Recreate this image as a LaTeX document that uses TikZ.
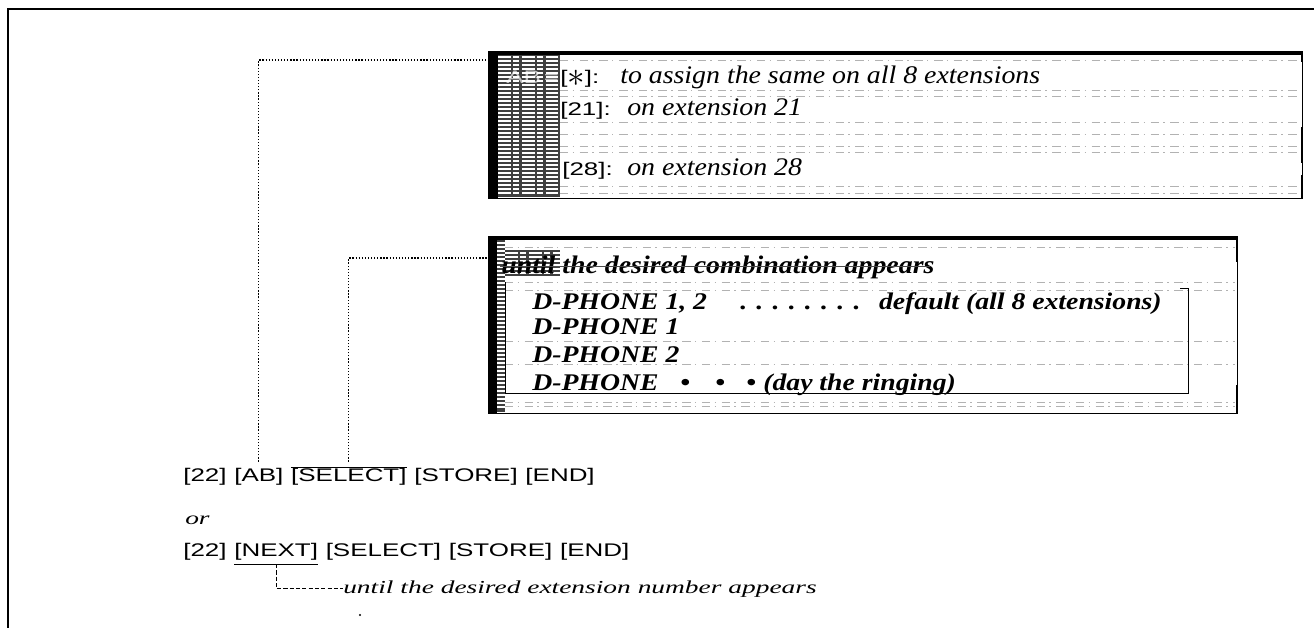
\documentclass[tikz,border=0pt]{standalone}
\usepackage{fontspec}
\setmainfont{Liberation Serif}
\newfontfamily\keyfont[FakeStretch=1.42]{Liberation Sans}
\newfontfamily\notefont[FakeStretch=1.1]{Liberation Serif}
\newfontfamily\phonefont[FakeStretch=1.16]{Liberation Serif}
\newfontfamily\hintfont[FakeStretch=1.5]{Liberation Serif}
\usetikzlibrary{positioning}

\tikzset{
  keytxt/.style={font=\keyfont\fontsize{13}{15}\selectfont, inner sep=0pt, anchor=base west},
  notetxt/.style={font=\notefont\itshape\fontsize{18}{20}\selectfont, inner sep=0pt, anchor=base west},
  phonetxt/.style={font=\phonefont\bfseries\itshape\fontsize{17}{19}\selectfont, inner sep=0pt, anchor=base west},
  hinttxt/.style={font=\hintfont\itshape\fontsize{13}{15}\selectfont, inner sep=0pt, anchor=base west},
  boxarea/.style={inner sep=0pt, anchor=north west},
  leader/.style={line width=0.8pt, dash pattern=on 0.9pt off 1.3pt},
  hintline/.style={line width=0.6pt, dash pattern=on 3pt off 1.5pt},
  scan/.style={black!30, line width=0.35pt, dash pattern=on 6pt off 3pt on 1pt off 4pt},
  stripe/.style={white, line width=0.8pt, dash pattern=on 9pt off 2pt on 4pt off 2pt}
}

\begin{document}
\begin{tikzpicture}[x=0.025cm,y=-0.025cm]
  \useasboundingbox (0,0) rectangle (1314,628);
  % outer frame
  \draw[line width=1.3pt] (8,628) -- (8,9) -- (1314,9);

  % extension choice box
  \node[boxarea, minimum width=20.35cm, minimum height=3.625cm] (optbox) at (488,53) {};
  \fill[black!75] (498,55) rectangle (560,197);
  \node[keytxt, text=black!25] (abeq) at (506,84) {AB\,=};
  \foreach \yy in {57,61,...,195}
    \draw[stripe] (498,\yy) -- (560,\yy);
  \fill[black] (optbox.north west) rectangle (498,198);
  \foreach \yy in {60,90,96,122,134,146,152,186,193}
    \draw[scan] (560,\yy) -- (1300,\yy);
  \draw[line width=2.4pt] (optbox.north west) -- (optbox.north east);
  \draw[line width=0.8pt] (optbox.south west) -- (optbox.south east);
  \draw[line width=0.5pt] (optbox.north east) -- (optbox.south east);
  \draw[line width=2pt] (1302,53) -- (1302,62) (1302,127) -- (1302,163) (1302,175) -- (1302,198);

  \node[keytxt] (kstar) at (560,84) {[\raisebox{-2pt}{\fontsize{24}{24}\selectfont$\ast$}]:};
  \node[notetxt] (allext) at (620,84) {to assign the same on all 8 extensions};
  \node[keytxt] (k21) at (560,116) {[21]:};
  \node[notetxt] (ext21) at (627,116) {on extension 21};
  \node[keytxt] (k28) at (562,176) {[28]:};
  \node[notetxt] (ext28) at (627,176) {on extension 28};

  % ringing mode box
  \node[boxarea, minimum width=18.725cm, minimum height=4.375cm] (modebox) at (488,238) {};
  \fill[black!75] (497,240) rectangle (505,412);
  \fill[black!75] (505,250) rectangle (560,276);
  \foreach \yy in {243,247,...,410}
    \draw[stripe] (497,\yy) -- (505,\yy);
  \foreach \yy in {253,257,...,275}
    \draw[stripe] (505,\yy) -- (560,\yy);
  \fill[black] (modebox.north west) rectangle (497,413);
  \foreach \yy in {247,282,290,341,364,402,406}
    \draw[scan] (505,\yy) -- (1235,\yy);
  \draw[line width=2.4pt] (modebox.north west) -- (modebox.north east);
  \draw[line width=0.9pt] (modebox.south west) -- (modebox.south east);
  \draw[line width=0.5pt] (modebox.north east) -- (modebox.south east);
  \draw[line width=2pt] (1237,238) -- (1237,262) (1237,385) -- (1237,413);

  \node[notetxt, font=\notefont\bfseries\itshape\fontsize{18}{20}\selectfont] (combi) at (501,274) {until the desired combination appears};
  \draw[black!70, line width=0.6pt] (500,266) -- (930,266);
  \draw[line width=0.6pt] (1180,288) -- (1188,288) -- (1188,393) -- (505,393) -- (505,282);
  \node[phonetxt] (ph12) at (532,310) {D-PHONE 1, 2};
  \node[phonetxt] (phdots) at (740,310) {. . . . . . . .};
  \node[phonetxt, anchor=base east] (phdef) at (1162,310) {default (all 8 extensions)};
  \node[phonetxt] (ph1) at (532,335) {D-PHONE 1};
  \node[phonetxt] (ph2) at (532,363) {D-PHONE 2};
  \node[phonetxt] (phday) at (532,391) {D-PHONE};
  \node[phonetxt] (bul1) at (680,391) {•};
  \node[phonetxt] (bul2) at (715,391) {•};
  \node[phonetxt] (bul3) at (746,391) {•};
  \node[phonetxt] (daynote) at (763,391) {(day the ringing)};

  % key sequences
  \node[keytxt] (k22a) at (183,482) {[22]};
  \node[keytxt, right=0.18cm of k22a] (kab) {[AB]};
  \node[keytxt, right=0.18cm of kab] (ksel) {[SELECT]};
  \node[keytxt, right=0.18cm of ksel] (kstore) {[STORE]};
  \node[keytxt, right=0.18cm of kstore] (kend) {[END]};
  \draw[line width=0.7pt] ([yshift=0.03cm]ksel.north west) -- ([yshift=0.03cm]ksel.north east);

  \node[hinttxt] (orword) at (185,524) {or};

  \node[keytxt] (k22b) at (183,556) {[22]};
  \node[keytxt, right=0.18cm of k22b] (knext) {[NEXT]};
  \node[keytxt, right=0.18cm of knext] (ksel2) {[SELECT]};
  \node[keytxt, right=0.18cm of ksel2] (kstore2) {[STORE]};
  \node[keytxt, right=0.18cm of kstore2] (kend2) {[END]};
  \draw[line width=0.7pt] ([yshift=-0.1cm]knext.south west) -- ([yshift=-0.1cm]knext.south east);

  \node[hinttxt] (hint) at (343,593) {until the desired extension number appears};

  % leaders
  \coordinate (optin) at (488,60);
  \coordinate (modein) at (488,258);
  \coordinate (nextfoot) at ([yshift=-0.1cm]knext.south);
  \draw[leader, shorten <=0.17cm] (kab.north) |- (optin);
  \draw[leader, shorten <=0.17cm] (ksel.north) |- (modein);
  \draw[hintline] (nextfoot) |- (hint.west);
  \fill (360,615) circle (0.8pt);
\end{tikzpicture}
\end{document}
